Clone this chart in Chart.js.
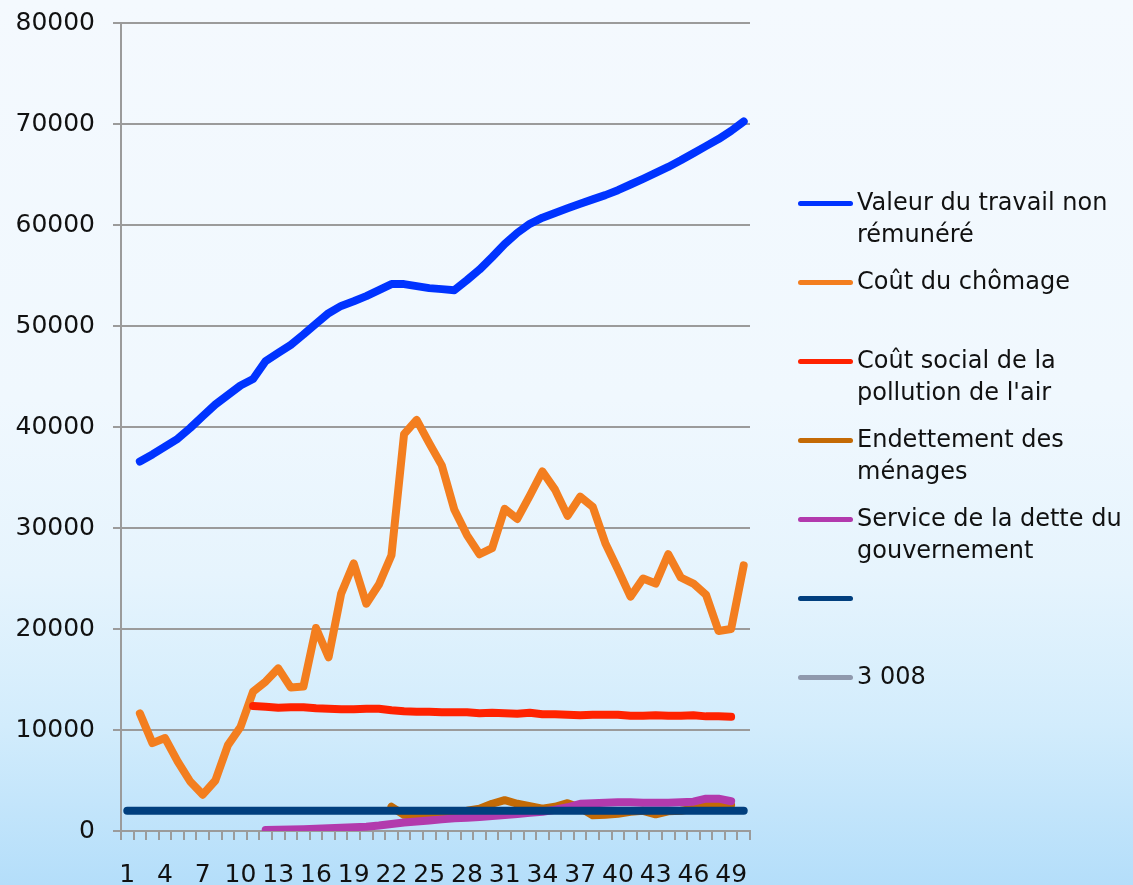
<!DOCTYPE html>
<html>
<head>
<meta charset="utf-8">
<script src="https://cdn.jsdelivr.net/npm/chart.js@4.4.1/dist/chart.umd.min.js"></script>
<style>
  html, body { margin: 0; padding: 0; }
  body {
    width: 1133px; height: 885px; overflow: hidden; position: relative;
    background: linear-gradient(to bottom, #f4f9fe 0%, #f0f8fe 45%, #e6f4fd 65%, #d2ecfc 82%, #b4defa 100%);
    font-family: "DejaVu Sans", sans-serif;
  }
  #c { position: absolute; left: 0; top: 0; }
  .lg-item { position: absolute; left: 798px; width: 335px; }
  .lg-line { position: absolute; left: 0; width: 55px; height: 5px; border-radius: 3px; }
  .lg-text { position: absolute; left: 59px; width: 278px; font-size: 24px; line-height: 31.5px; color: #111; white-space: normal; }
</style>
</head>
<body>
<canvas id="c" width="1133" height="885"></canvas>
<div id="legend"></div>
<script>
// ---- Data ----
const categories = ["1","2","3","4","5","6","7","8","9","10","11","12","13","14","15","16","17","18","19","20","21","22","23","24","25","26","27","28","29","30","31","32","33","34","35","36","37","38","39","40","41","42","43","44","45","46","47","48","49","50"];

const seriesNames = [
  "Valeur du travail non rémunéré",
  "Coût du chômage",
  "Coût social de la pollution de l'air",
  "Endettement des ménages",
  "Service de la dette du gouvernement",
  "",
  "3 008"
];

const valeurTravail = [null, 36580, 37280, 38060, 38830, 39900, 41080, 42230, 43170, 44110, 44750, 46530, 47330, 48140, 49160, 50230, 51270, 51990, 52450, 52960, 53550, 54150, 54150, 53950, 53750, 53650, 53550, 54540, 55590, 56820, 58110, 59220, 60120, 60720, 61190, 61650, 62110, 62540, 62960, 63450, 64010, 64570, 65160, 65750, 66410, 67110, 67810, 68510, 69320, 70250];

const coutChomage = [null, 11650, 8700, 9200, 6900, 4900, 3600, 5000, 8500, 10300, 13800, 14800, 16100, 14200, 14300, 20100, 17200, 23500, 26500, 22500, 24400, 27300, 39300, 40700, 38400, 36200, 31800, 29300, 27400, 28000, 31900, 30900, 33200, 35600, 33800, 31200, 33100, 32100, 28500, 25900, 23200, 25000, 24500, 27400, 25100, 24500, 23400, 19800, 20000, 26300];

const coutPollution = [null, null, null, null, null, null, null, null, null, null, 12380, 12300, 12200, 12250, 12250, 12150, 12100, 12050, 12050, 12100, 12100, 11950, 11850, 11800, 11800, 11750, 11750, 11750, 11650, 11700, 11650, 11600, 11700, 11550, 11550, 11500, 11450, 11500, 11500, 11500, 11400, 11400, 11450, 11400, 11400, 11450, 11350, 11350, 11300, null];

const endettement = [null, null, null, null, null, null, null, null, null, null, null, null, null, null, null, null, null, null, null, null, null, 2400, 1600, 1500, 1600, 1800, 1900, 2000, 2200, 2700, 3050, 2700, 2450, 2200, 2400, 2750, 2300, 1550, 1600, 1700, 1900, 2000, 1650, 1950, 2000, 2200, 2550, 2650, 2550, null];

const serviceDette = [null, null, null, null, null, null, null, null, null, null, null, 100, 120, 150, 180, 220, 270, 320, 370, 430, 550, 700, 850, 950, 1050, 1150, 1250, 1300, 1380, 1480, 1580, 1680, 1800, 1900, 2100, 2350, 2700, 2750, 2800, 2850, 2850, 2800, 2800, 2800, 2850, 2900, 3200, 3200, 2950, null];

const serieSansNom = [2000, 2000, 2000, 2000, 2000, 2000, 2000, 2000, 2000, 2000, 2000, 2000, 2000, 2000, 2000, 2000, 2000, 2000, 2000, 2000, 2000, 2000, 2000, 2000, 2000, 2000, 2000, 2000, 2000, 2000, 2000, 2000, 2000, 2000, 2000, 2000, 2000, 2000, 2000, 2000, 2000, 2000, 2000, 2000, 2000, 2000, 2000, 2000, 2000, 2000];

const serie3008 = [];

const yTicks = [0, 10000, 20000, 30000, 40000, 50000, 60000, 70000, 80000];

// ---- Styles ----
const colors = ["#0033ff", "#f37e1f", "#ff2200", "#c46a05", "#b23aad", "#013f7e", "#8f99ad"];
const allData = [valeurTravail, coutChomage, coutPollution, endettement, serviceDette, serieSansNom, serie3008];

const datasets = allData.map((d, i) => ({
  label: seriesNames[i],
  data: d,
  borderColor: colors[i],
  backgroundColor: colors[i],
  borderWidth: 8,
  pointRadius: 0,
  pointHoverRadius: 0,
  tension: 0,
  fill: false,
  spanGaps: false,
  borderCapStyle: 'round',
  borderJoinStyle: 'round',
  order: allData.length - i
}));

const gridColor = '#9b9b9b';
const tickFont = { family: 'DejaVu Sans', size: 25 };

new Chart(document.getElementById('c'), {
  type: 'line',
  data: { labels: categories, datasets },
  options: {
    responsive: false,
    devicePixelRatio: 1,
    animation: false,
    layout: { padding: { left: 0, right: 383, top: 23, bottom: 0 } },
    plugins: { legend: { display: false }, tooltip: { enabled: false } },
    scales: {
      x: {
        type: 'category',
        offset: true,
        grid: { offset: true, drawOnChartArea: false, drawTicks: true, tickLength: 9, color: gridColor, lineWidth: 2 },
        border: { display: true, color: gridColor, width: 2 },
        ticks: {
          autoSkip: false, maxRotation: 0, minRotation: 0, padding: 20,
          color: '#111', font: tickFont,
          callback: function(v, i) { return i % 3 === 0 ? categories[i] : ''; }
        },
        afterFit: function(s) { s.height = 54; s.paddingLeft = 0; s.paddingRight = 0; }
      },
      y: {
        min: 0, max: 80000,
        afterBuildTicks: function(s) { s.ticks = yTicks.map(v => ({ value: v })); },
        grid: { color: gridColor, lineWidth: 2, tickLength: 8, drawTicks: true },
        border: { display: true, color: gridColor, width: 2 },
        ticks: { padding: 18, color: '#111', font: tickFont, callback: v => String(v) },
        afterFit: function(s) { s.width = 121; s.paddingTop = 0; s.paddingBottom = 0; }
      }
    }
  }
});

// ---- HTML legend built from the datasets ----
const legend = document.getElementById('legend');
datasets.forEach((ds, i) => {
  const cy = 203 + i * 79;
  const item = document.createElement('div');
  item.className = 'lg-item';
  item.style.top = (cy - 15.75) + 'px';
  const line = document.createElement('div');
  line.className = 'lg-line';
  line.style.background = ds.borderColor;
  line.style.top = (15.75 - 2.5) + 'px';
  const txt = document.createElement('div');
  txt.className = 'lg-text';
  txt.style.top = '0px';
  txt.textContent = ds.label;
  item.appendChild(line);
  item.appendChild(txt);
  legend.appendChild(item);
});
</script>
</body>
</html>
